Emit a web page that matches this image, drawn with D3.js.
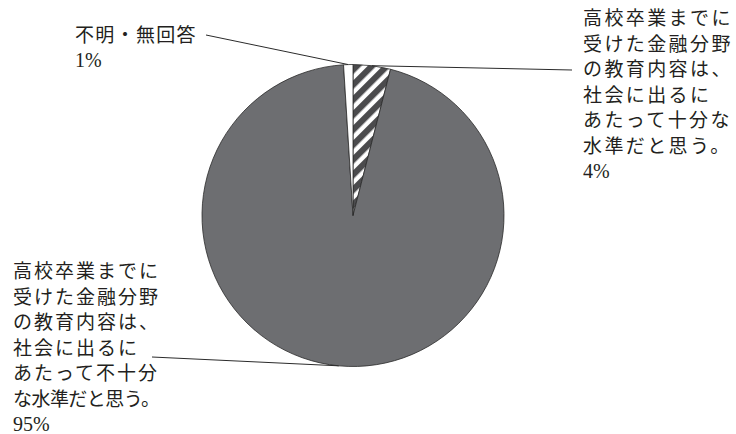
<!DOCTYPE html>
<html>
<head>
<meta charset="utf-8">
<script src="https://cdn.jsdelivr.net/npm/d3@7/dist/d3.min.js"></script>
<style>
  html, body { margin: 0; padding: 0; background: #fff; }
  svg { display: block; }
</style>
</head>
<body>
<svg id="chart" width="736" height="434"></svg>
<script>
// Survey answers, clockwise from 12 o'clock
const categories = [
  "十分な水準だと思う",
  "不十分な水準だと思う",
  "不明・無回答"
];
const values = [4, 95, 1];
const percentLabels = ["4%", "95%", "1%"];
const labelLines = [
  ["高校卒業までに", "受けた金融分野", "の教育内容は、", "社会に出るに", "あたって十分な", "水準だと思う。"],
  ["高校卒業までに", "受けた金融分野", "の教育内容は、", "社会に出るに", "あたって不十分", "な水準だと思う。"],
  ["不明・無回答"]
];

const svg = d3.select("#chart");
const cx = 353, cy = 215.5, R = 151;

// diagonal hatch used by the "十分" slice
const defs = svg.append("defs");
const pat = defs.append("pattern")
  .attr("id", "hatch")
  .attr("patternUnits", "userSpaceOnUse")
  .attr("width", 10.6).attr("height", 10.6)
  .attr("patternTransform", "rotate(45)");
pat.append("rect").attr("width", 10.6).attr("height", 10.6).attr("fill", "#ffffff");
pat.append("rect").attr("width", 6.2).attr("height", 10.6).attr("fill", "#4b4b4d");

const fills = ["url(#hatch)", "#6d6e71", "#ffffff"];

const pie = d3.pie().sort(null).value(d => d);
const arcs = pie(values);
const arc = d3.arc().innerRadius(0).outerRadius(R);

const g = svg.append("g").attr("transform", `translate(${cx},${cy})`);
g.selectAll("path.slice")
  .data(arcs)
  .join("path")
  .attr("class", "slice")
  .attr("d", arc)
  .attr("fill", (d, i) => fills[i])
  .attr("stroke", "#2b2b2b")
  .attr("stroke-width", 0.8)
  .attr("stroke-linejoin", "round");

// label blocks: leader line end, text origin, letter spacing
const jpFont = "'Noto Sans CJK JP', sans-serif";
const numFont = "'Liberation Serif', 'DejaVu Serif', serif";
const blocks = [
  { x: 583, y: 25, lead: [572, 70], spacing: 2.4, fit: null },
  { x: 13, y: 278, lead: [152, 357], spacing: 2, fit: 147 },
  { x: 75, y: 42, lead: [206, 35], spacing: 1.3, fit: null }
];
const lineH = 25.6;

function outerPoint(a) {
  const ang = (a.startAngle + a.endAngle) / 2;
  return [cx + R * Math.sin(ang), cy - R * Math.cos(ang)];
}

// leader lines
arcs.forEach((a, i) => {
  const p = outerPoint(a);
  const b = blocks[i];
  svg.append("line")
    .attr("x1", b.lead[0]).attr("y1", b.lead[1])
    .attr("x2", p[0]).attr("y2", p[1])
    .attr("stroke", "#2b2b2b")
    .attr("stroke-width", 1);
});

// label texts
labelLines.forEach((lines, i) => {
  const b = blocks[i];
  lines.forEach((ln, j) => {
    const t = svg.append("text")
      .attr("x", b.x)
      .attr("y", b.y + j * lineH)
      .attr("font-family", jpFont)
      .attr("font-size", 19)
      .attr("fill", "#231f20")
      .text(ln);
    if (b.fit && ln.length > 7) {
      t.attr("textLength", b.fit).attr("lengthAdjust", "spacing");
    } else {
      t.attr("letter-spacing", b.spacing);
    }
  });
  svg.append("text")
    .attr("x", b.x)
    .attr("y", b.y + lines.length * lineH - 1)
    .attr("font-family", numFont)
    .attr("font-size", 20)
    .attr("fill", "#231f20")
    .text(percentLabels[i]);
});
</script>
</body>
</html>
